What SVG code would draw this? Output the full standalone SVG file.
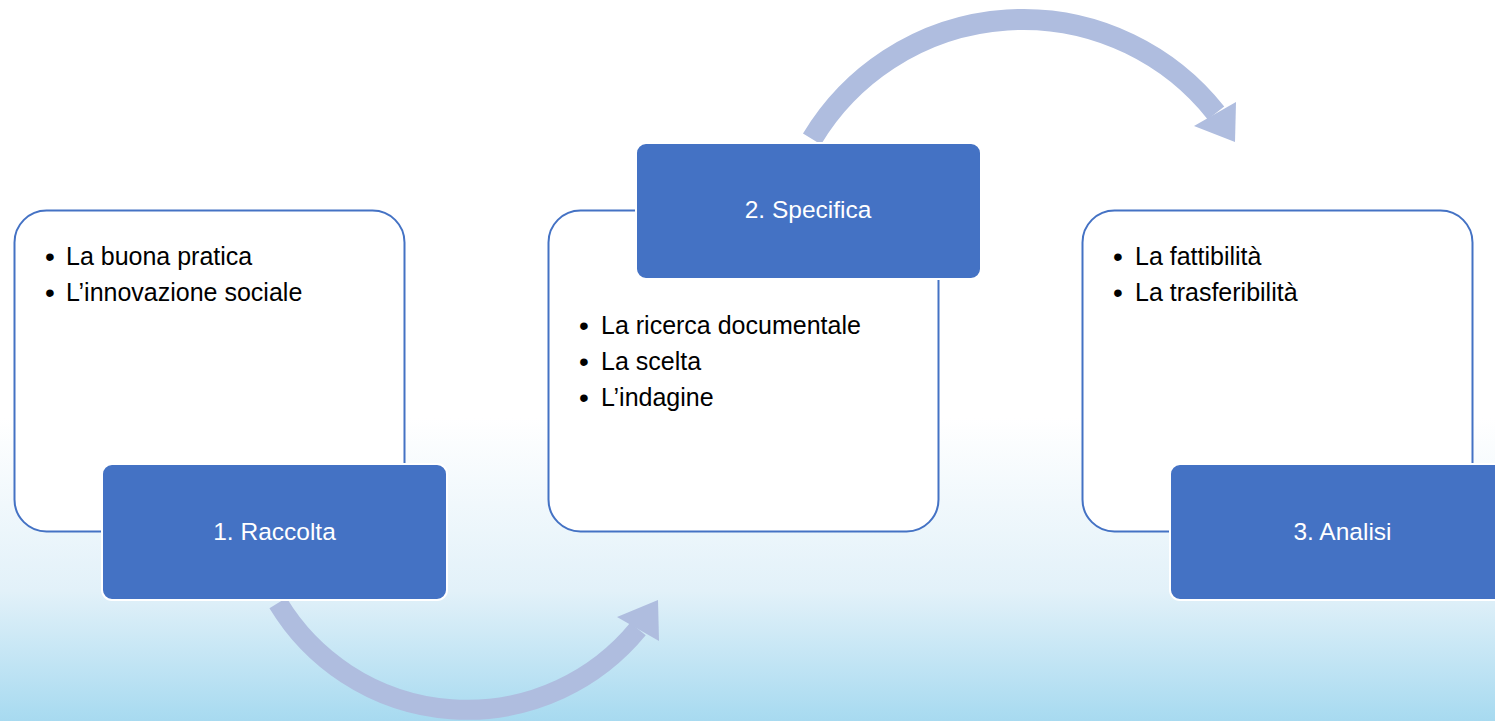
<svg xmlns="http://www.w3.org/2000/svg" width="1495" height="721" viewBox="0 0 1495 721">
<defs>
<linearGradient id="bg" x1="0" y1="0" x2="0" y2="721" gradientUnits="userSpaceOnUse">
<stop offset="0" stop-color="#ffffff"/>
<stop offset="0.58" stop-color="#ffffff"/>
<stop offset="0.82" stop-color="#e2f1f9"/>
<stop offset="1" stop-color="#a7daf0"/>
</linearGradient>
<style>
.card{fill:#ffffff;stroke:#4472c4;stroke-width:2}
.head{fill:#4472c4;stroke:#ffffff;stroke-width:2}
.item{font-family:"Liberation Sans","Open Sans",sans-serif;font-size:25px;fill:#000000}
.dot{font-family:"Liberation Sans","Open Sans",sans-serif;font-size:28px;fill:#000000}
.title{font-family:"Liberation Sans","Open Sans",sans-serif;font-size:24.5px;fill:#ffffff;text-anchor:middle}
.shaft{fill:none;stroke:#afbddf;stroke-linecap:butt}
.tip{fill:#afbddf}
</style>
</defs>
<rect x="0" y="0" width="1495" height="721" fill="url(#bg)"/>
<g id="connectors">
<path class="shaft" stroke-width="20" d="M 278 603 A 221 221 0 0 0 638 629"/>
<polygon class="tip" points="658,600 617,617 659,641"/>
<path class="shaft" stroke-width="21" d="M 812 139 A 246 246 0 0 1 1216 113"/>
<polygon class="tip" points="1235,142 1194,126 1236,102"/>
</g>
<g id="node1">
<rect class="card" x="14.5" y="210.5" width="390" height="321" rx="32"/>
<text class="dot" x="45" y="266">•</text>
<text class="item" x="66" y="265">La buona pratica</text>
<text class="dot" x="45" y="302">•</text>
<text class="item" x="66" y="301">L’innovazione sociale</text>
<rect class="head" x="102" y="464" width="345" height="136" rx="10"/>
<text class="title" x="274.5" y="540">1. Raccolta</text>
</g>
<g id="node2">
<rect class="card" x="548.5" y="210.5" width="390" height="321" rx="32"/>
<text class="dot" x="579" y="335">•</text>
<text class="item" x="601" y="334">La ricerca documentale</text>
<text class="dot" x="579" y="371">•</text>
<text class="item" x="601" y="370">La scelta</text>
<text class="dot" x="579" y="407">•</text>
<text class="item" x="601" y="406">L’indagine</text>
<rect class="head" x="636" y="143" width="345" height="136" rx="10"/>
<text class="title" x="808" y="218">2. Specifica</text>
</g>
<g id="node3">
<rect class="card" x="1082.5" y="210.5" width="390" height="321" rx="32"/>
<text class="dot" x="1113" y="266">•</text>
<text class="item" x="1135" y="265">La fattibilità</text>
<text class="dot" x="1113" y="302">•</text>
<text class="item" x="1135" y="301">La trasferibilità</text>
<rect class="head" x="1170" y="464" width="345" height="136" rx="10"/>
<text class="title" x="1342.5" y="540">3. Analisi</text>
</g>
</svg>
